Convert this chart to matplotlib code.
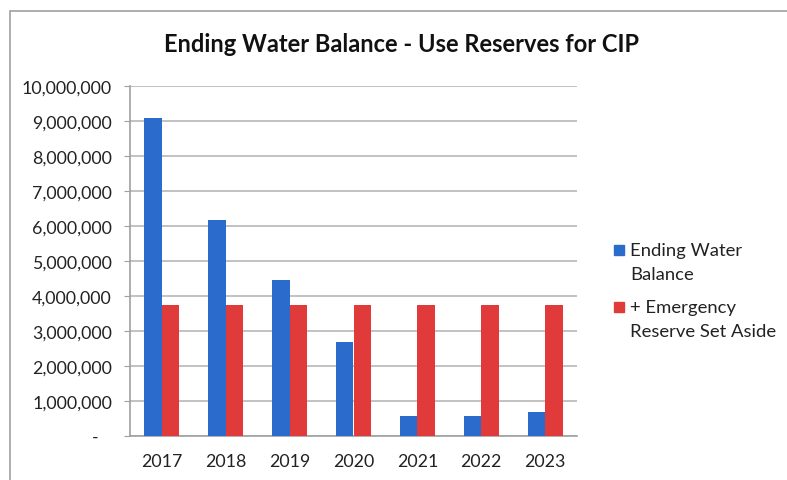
import matplotlib.pyplot as plt
import matplotlib.patches as mpatches
from matplotlib.ticker import FuncFormatter
import numpy as np

plt.rcParams['font.family'] = ['Lato', 'DejaVu Sans']

years = ['2017', '2018', '2019', '2020', '2021', '2022', '2023']
ending_balance = [9080000, 6180000, 4460000, 2700000, 580000, 580000, 680000]
emergency_reserve = [3730000, 3730000, 3730000, 3730000, 3730000, 3730000, 3730000]
series_names = ['Ending Water\nBalance', '+ Emergency\nReserve Set Aside']

blue = '#2A6BCB'
red = '#E03A3A'

fig = plt.figure(figsize=(7.87, 4.81), dpi=100)

# grey border of the embedded chart
frame = mpatches.Rectangle((10 / 787, -0.1), 1.2, (481 - 12) / 481 + 0.1,
                           transform=fig.transFigure, fill=False,
                           edgecolor='#A0A0A0', linewidth=1.2)
fig.patches.append(frame)

ax = fig.add_axes([130 / 787, 44 / 481, 447 / 787, 350 / 481])

x = np.arange(len(years))
w = 0.275
ax.bar(x - w / 2, ending_balance, w, color=blue, zorder=3)
ax.bar(x + w / 2, emergency_reserve, w, color=red, zorder=3)

ax.set_xlim(-0.5, len(years) - 0.5)
ax.set_ylim(0, 10000000)
ax.set_yticks(np.arange(0, 10000001, 1000000))


def fmt(v, pos):
    if v == 0:
        return '-   '
    return f'{int(v):,}'


ax.yaxis.set_major_formatter(FuncFormatter(fmt))
ax.set_xticks(x)
ax.set_xticklabels(years)
ax.tick_params(axis='both', labelsize=12.8, colors='#222222')
ax.tick_params(axis='y', length=4, color='#A0A0A0', pad=9)
ax.tick_params(axis='x', length=0, pad=12)

ax.grid(axis='y', color='#B8B8B8', linewidth=1.2, zorder=0)
for s in ['top', 'right']:
    ax.spines[s].set_visible(False)
for s in ['left', 'bottom']:
    ax.spines[s].set_color('#A0A0A0')
    ax.spines[s].set_linewidth(1.2)

fig.text(402 / 787, (481 - 45) / 481, 'Ending Water Balance - Use Reserves for CIP',
         ha='center', va='center', fontsize=17, fontweight='bold', color='#111111')

# legend: square marker aligned with the first line of each label (excel style)
W, H = 787, 481
for name, col, yc in zip(series_names, [blue, red], [251, 308]):
    fig.patches.append(mpatches.Rectangle((614 / W, (H - yc - 5) / H), 10 / W, 10 / H,
                                          transform=fig.transFigure, color=col))
    fig.text(630 / W, (H - yc + 8) / H, name, ha='left', va='top',
             fontsize=13.3, color='#222222', linespacing=1.62,
             transform=fig.transFigure)

fig.savefig('out.png', dpi=100)
